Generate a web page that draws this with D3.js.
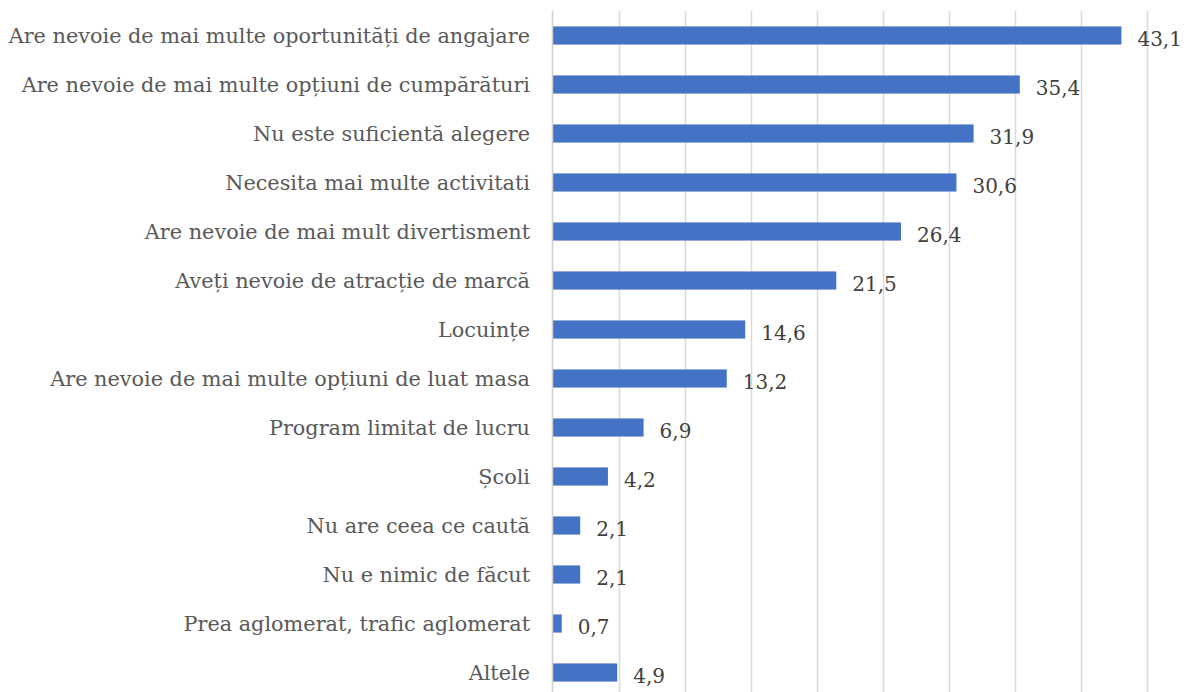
<!DOCTYPE html>
<html lang="ro">
<head>
  <meta charset="UTF-8">
  <title>Bar chart</title>
  <script src="https://cdnjs.cloudflare.com/ajax/libs/d3/7.8.5/d3.min.js"></script>
  <style>
    body { margin: 0; background: #fff; }
    text { font-family: "DejaVu Serif", Georgia, serif; }
  </style>
</head>
<body>
  <svg width="1204" height="692"></svg>
  <script>
    const categories = [
      "Are nevoie de mai multe oportunități de angajare",
      "Are nevoie de mai multe opțiuni de cumpărături",
      "Nu este suficientă alegere",
      "Necesita mai multe activitati ",
      "Are nevoie de mai mult divertisment",
      "Aveți nevoie de atracție de marcă",
      "Locuințe",
      "Are nevoie de mai multe opțiuni de luat masa",
      "Program limitat de lucru",
      "Școli",
      "Nu are ceea ce caută",
      "Nu e nimic de făcut",
      "Prea aglomerat, trafic aglomerat",
      "Altele"
    ];
    const values = [43.1, 35.4, 31.9, 30.6, 26.4, 21.5, 14.6, 13.2, 6.9, 4.2, 2.1, 2.1, 0.7, 4.9];
    const gridTicks = [0, 5, 10, 15, 20, 25, 30, 35, 40, 45];

    const data = categories.map((c, i) => ({ cat: c, val: values[i] }));

    const svg = d3.select("svg");
    const x0 = 552.5, plotTop = 11, plotBottom = 697;

    const x = d3.scaleLinear().domain([0, 45]).range([x0, x0 + 594]);
    const y = d3.scaleBand().domain(categories).range([plotTop, plotBottom]).paddingInner(0.63).paddingOuter(0.315);

    // vertical gridlines
    svg.append("g")
      .selectAll("line")
      .data(gridTicks.slice(1))
      .enter().append("line")
      .attr("x1", d => Math.round(x(d)) + 0.5)
      .attr("x2", d => Math.round(x(d)) + 0.5)
      .attr("y1", plotTop)
      .attr("y2", 692)
      .attr("stroke", "#d9d9d9")
      .attr("stroke-width", 1.5);

    // bars
    svg.append("g")
      .selectAll("rect")
      .data(data)
      .enter().append("rect")
      .attr("x", x(0))
      .attr("y", d => y(d.cat))
      .attr("width", d => x(d.val) - x(0))
      .attr("height", y.bandwidth())
      .attr("fill", "#4472c4");

    // axis line
    svg.append("line")
      .attr("x1", x(0)).attr("x2", x(0))
      .attr("y1", plotTop).attr("y2", 692)
      .attr("stroke", "#d0d0d0")
      .attr("stroke-width", 1.5);

    // category labels
    svg.append("g")
      .selectAll("text")
      .data(data)
      .enter().append("text")
      .attr("x", 530)
      .attr("y", d => y(d.cat) + y.bandwidth() / 2)
      .attr("dy", "0.35em")
      .attr("text-anchor", "end")
      .attr("font-size", 20.8)
      .attr("fill", "#595959")
      .text(d => d.cat);

    // value labels
    const fmt = v => d3.format(".1f")(v).replace(".", ",");
    svg.append("g")
      .selectAll("text")
      .data(data)
      .enter().append("text")
      .attr("x", d => x(d.val) + 16)
      .attr("y", d => y(d.cat) + y.bandwidth() / 2 + 3)
      .attr("dy", "0.35em")
      .attr("font-size", 20)
      .attr("fill", "#404040")
      .text(d => fmt(d.val));
  </script>
</body>
</html>
